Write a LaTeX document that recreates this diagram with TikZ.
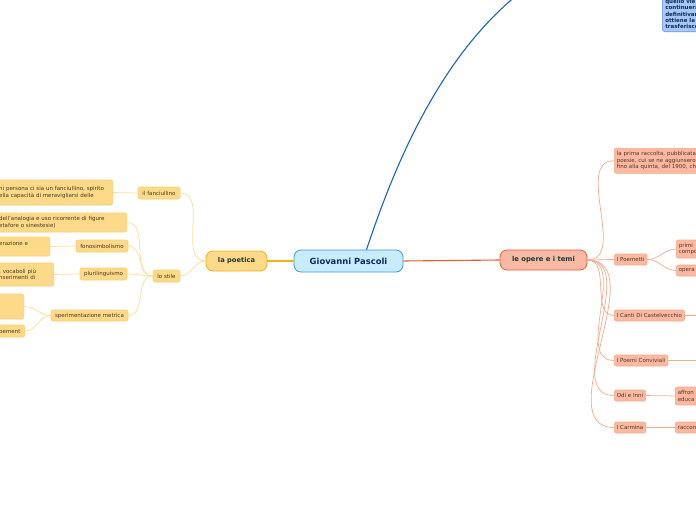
\documentclass[tikz,border=0pt]{standalone}
\usepackage{fontspec}
\setmainfont{DejaVu Sans}
\definecolor{rootfill}{HTML}{C8ECFC}
\definecolor{rootline}{HTML}{3A9BDC}
\definecolor{rootink}{HTML}{0B2D5B}
\definecolor{blueln}{HTML}{1B63C9}
\definecolor{bluefill}{HTML}{A8C9F7}
\definecolor{blueline}{HTML}{5B8EE6}
\definecolor{redln}{HTML}{EE5A2C}
\definecolor{redfill}{HTML}{F8B9A5}
\definecolor{salfill}{HTML}{FBB9A1}
\definecolor{salline}{HTML}{F9A98B}
\definecolor{salink}{HTML}{5A3324}
\definecolor{orln}{HTML}{F6B01E}
\definecolor{yelfill}{HTML}{FDD98A}
\definecolor{yelline}{HTML}{FDCF6E}
\definecolor{yelink}{HTML}{4A3A1A}
\definecolor{yelln}{HTML}{FDDE94}
\definecolor{mainink}{HTML}{1E3B2F}
\begin{document}
\begin{tikzpicture}[x=1pt,y=-1pt,
  root/.style={draw=rootline, fill=rootfill, text=rootink, rounded corners=7pt, line width=0.8pt, minimum width=109pt, minimum height=22pt, font=\fontsize{8.4}{10}\selectfont\bfseries},
  branchR/.style={draw=redln, fill=redfill, text=mainink, rounded corners=7pt, line width=0.8pt, minimum width=87pt, minimum height=20pt, font=\fontsize{6.8}{8}\selectfont\bfseries},
  branchL/.style={draw=orln, fill=yelfill, text=mainink, rounded corners=7pt, line width=0.8pt, minimum width=61pt, minimum height=20pt, font=\fontsize{6.7}{8}\selectfont\bfseries},
  leafR/.style={draw=salline, fill=salfill, text=salink, rounded corners=2pt, line width=0.6pt, inner sep=2.5pt, minimum height=11pt, align=left, font=\fontsize{5.5}{6.6}\selectfont},
  leafL/.style={draw=yelline, fill=yelfill, text=yelink, rounded corners=2pt, line width=0.6pt, inner sep=2.5pt, minimum height=12pt, align=left, font=\fontsize{5.5}{6.6}\selectfont},
  topbox/.style={draw=blueline, fill=bluefill, text=rootink, rounded corners=3pt, line width=0.6pt, inner sep=3pt, text width=60pt, align=left, font=\fontsize{5.5}{6.3}\selectfont\bfseries},
  linkR/.style={draw=salline, line width=0.7pt},
  linkL/.style={draw=yelln, line width=0.7pt}]
\useasboundingbox (0,0) rectangle (696,520);
\clip (0,0) rectangle (696,520);
\fill[white] (0,0) rectangle (696,520);

% centre and main branches
\node[root] (pascoli) at (348.5,261) {Giovanni Pascoli};
\node[branchR] (opere) at (543.5,260) {le opere e i temi};
\node[branchL] (poetica) at (236.5,261) {la poetica};
\coordinate (sopra) at (545,-25);
\node[topbox, anchor=south west] (vie) at (662,32) {quello vie\\continuerà\\definitivam\\ottiene la c\\trasferisce};
\draw[blueln, line width=1.1pt] ([xshift=18pt]pascoli.north) .. controls (390,180) and (440,40) .. (sopra);
\draw[redln, line width=1.1pt] (pascoli.east) -- (opere.west);
\draw[orln, line width=1.1pt] (pascoli.west) -- (poetica.east);

% le opere e i temi
\node[leafR, anchor=north west, text width=100pt, minimum height=25pt] (raccolta) at (614,148) {la prima raccolta, pubblicata\\poesie, cui se ne aggiunsero\\fino alla quinta, del 1900, ch};
\node[leafR, anchor=west] (poemetti) at (614,259.5) {I Poemetti};
\node[leafR, anchor=west] (canti) at (614,315.5) {I Canti Di Castelvecchio};
\node[leafR, anchor=west] (conviviali) at (614,360.5) {I Poemi Conviviali};
\node[leafR, anchor=west] (odi) at (614,395.5) {Odi e Inni};
\node[leafR, anchor=west] (carmina) at (614,427.5) {I Carmina};
\node[leafR, anchor=west, text width=40pt, minimum height=18pt] (primi) at (676,249) {primi\\compo};
\node[leafR, anchor=west, text width=40pt] (opera) at (676,270.5) {opera};
\node[leafR, anchor=west, text width=40pt, minimum height=18pt] (affron) at (675,396) {affron\\educa};
\node[leafR, anchor=west, text width=40pt] (raccon) at (675,427.5) {raccon};
\coordinate (cantifuori) at (705,315.5);
\coordinate (convfuori) at (705,360.5);
\foreach \n in {raccolta,poemetti,canti,conviviali,odi,carmina}
  \draw[linkR] (opere.east) to[out=0,in=180] (\n.west);
\draw[linkR] (poemetti.east) to[out=0,in=180] (primi.west);
\draw[linkR] (poemetti.east) to[out=0,in=180] (opera.west);
\draw[linkR] (canti.east) -- (cantifuori);
\draw[linkR] (conviviali.east) -- (convfuori);
\draw[linkR] (odi.east) -- (affron.west);
\draw[linkR] (carmina.east) -- (raccon.west);

% la poetica
\node[leafL, minimum width=42pt] (fanc) at (159,193) {il fanciullino};
\node[leafL, minimum width=27pt] (stile) at (166.5,276) {lo stile};
\node[leafL, anchor=east, text width=111pt, minimum height=25pt] (fancdesc) at (113,192.5) {ni persona ci sia un fanciullino, spirito\\ella capacità di meravigliarsi delle};
\node[leafL, anchor=east, text width=125pt, minimum height=19pt] (analogia) at (127,222.5) {dell'analogia e uso ricorrente di figure\\etafore o sinestesie)};
\node[leafL, minimum width=52pt] (fonosimb) at (102,246) {fonosimbolismo};
\node[leafL, minimum width=47pt] (pluri) at (103.5,274) {plurilinguismo};
\node[leafL, minimum width=77pt, minimum height=11pt] (metrica) at (89.5,315.5) {sperimentazione metrica};
\node[leafL, anchor=east, text width=48pt, minimum height=19pt] (erazione) at (50,246.5) {erazione e\\~};
\node[leafL, anchor=east, text width=52pt, minimum height=23pt] (vocaboli) at (54,274.5) {, vocaboli più\\nserimenti di};
\node[leafL, anchor=east, minimum width=40pt, minimum height=25pt] (metro) at (24,306.5) {};
\node[leafL, anchor=east, text width=23pt] (enjamb) at (25,331) {bement};
\draw[linkL] (poetica.west) to[out=180,in=0] (fanc.east);
\draw[linkL] (poetica.west) to[out=180,in=0] (stile.east);
\draw[linkL] (fanc.west) -- (fancdesc.east);
\foreach \n in {analogia,fonosimb,pluri,metrica}
  \draw[linkL] (stile.west) to[out=180,in=0] (\n.east);
\draw[linkL] (fonosimb.west) -- (erazione.east);
\draw[linkL] (pluri.west) -- (vocaboli.east);
\draw[linkL] (metrica.west) to[out=180,in=0] (metro.east);
\draw[linkL] (metrica.west) to[out=180,in=0] (enjamb.east);
\end{tikzpicture}
\end{document}
